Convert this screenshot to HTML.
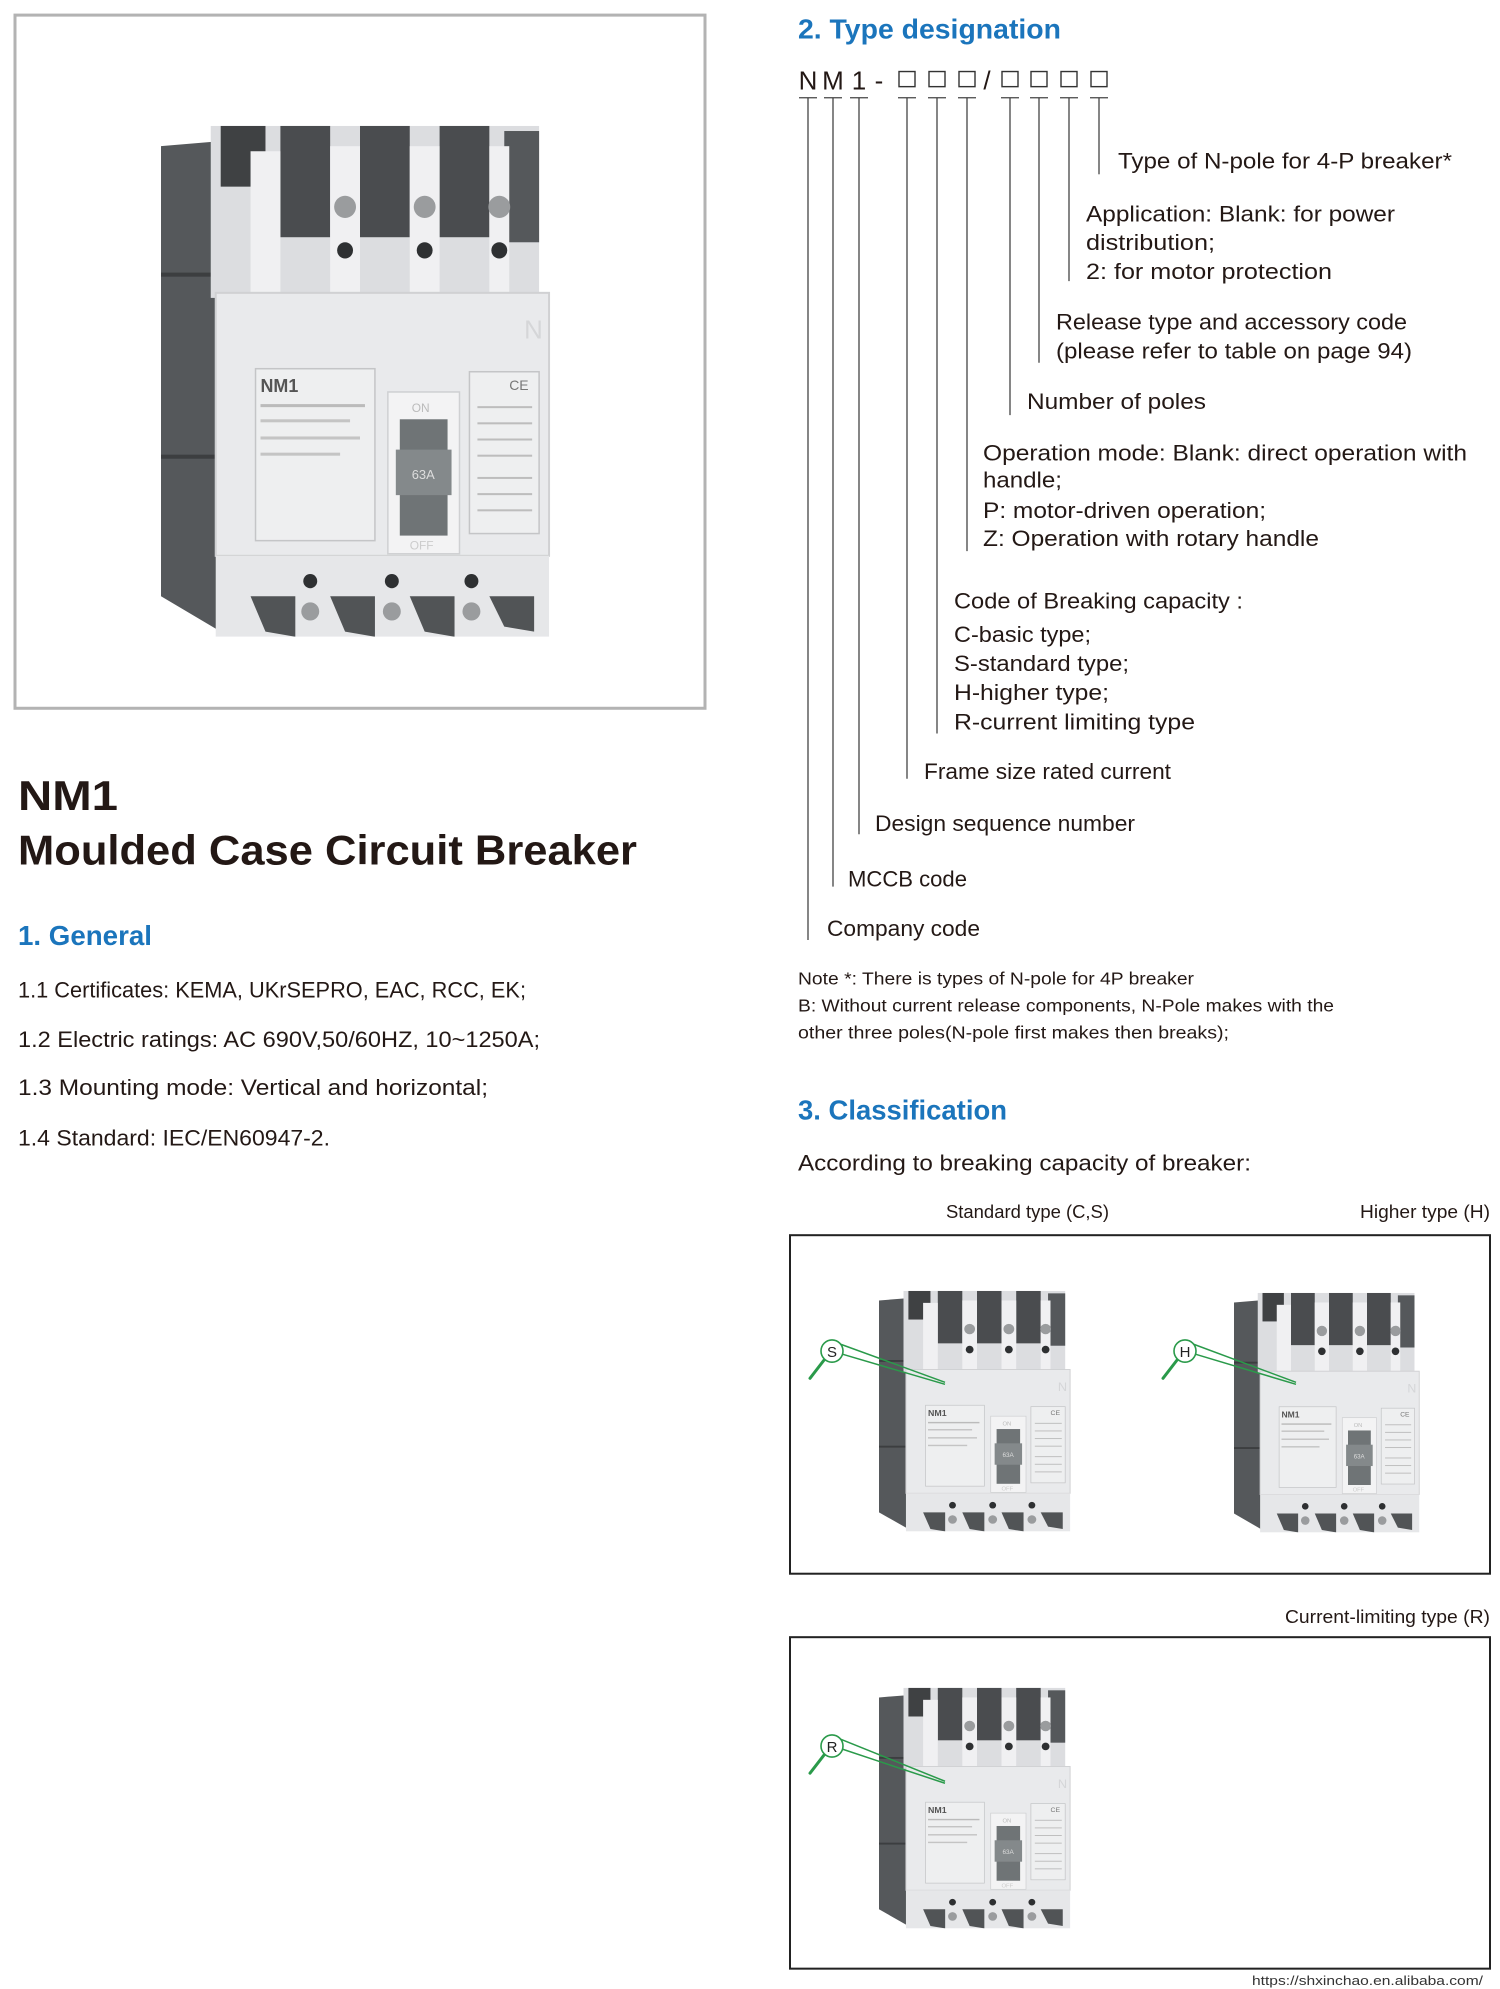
<!DOCTYPE html>
<html><head><meta charset="utf-8"><style>
html,body{margin:0;padding:0;background:#fff}
svg{display:block}
text{font-family:"Liberation Sans",sans-serif}
</style></head><body>
<svg width="1500" height="1989" viewBox="0 0 1500 1989" xmlns="http://www.w3.org/2000/svg">
<defs>
<symbol id="brk" viewBox="0 0 400 510" preserveAspectRatio="none">
  <polygon points="0,25 60,20 60,505 0,470" fill="#55585b"/>
  <rect x="0" y="150" width="60" height="4" fill="#3c3e40"/>
  <rect x="0" y="330" width="60" height="4" fill="#3c3e40"/>
  <rect x="50" y="5" width="330" height="170" fill="#dcdde0"/>
  <rect x="60" y="5" width="45" height="60" fill="#3f4143"/>
  <rect x="120" y="5" width="50" height="110" fill="#4a4c4f"/>
  <rect x="200" y="5" width="50" height="110" fill="#4a4c4f"/>
  <rect x="280" y="5" width="50" height="110" fill="#4a4c4f"/>
  <rect x="345" y="10" width="35" height="110" fill="#55585b"/>
  <rect x="170" y="25" width="30" height="150" fill="#f0f0f2"/>
  <rect x="250" y="25" width="30" height="150" fill="#f0f0f2"/>
  <rect x="330" y="25" width="20" height="150" fill="#f0f0f2"/>
  <rect x="90" y="30" width="30" height="145" fill="#f0f0f2"/>
  <circle cx="185" cy="85" r="11" fill="#9a9c9e"/>
  <circle cx="265" cy="85" r="11" fill="#9a9c9e"/>
  <circle cx="340" cy="85" r="11" fill="#9a9c9e"/>
  <circle cx="185" cy="128" r="8" fill="#2e3032"/>
  <circle cx="265" cy="128" r="8" fill="#2e3032"/>
  <circle cx="340" cy="128" r="8" fill="#2e3032"/>
  <rect x="55" y="170" width="335" height="260" fill="#e9eaec"/>
  <rect x="55" y="170" width="335" height="260" fill="none" stroke="#d0d1d3" stroke-width="2"/>
  <rect x="95" y="245" width="120" height="170" fill="#eeeff0" stroke="#c4c5c7" stroke-width="1.5"/>
  <text x="100" y="268" font-size="18" fill="#555" font-weight="bold">NM1</text>
  <rect x="100" y="280" width="105" height="3" fill="#bbb"/>
  <rect x="100" y="295" width="90" height="3" fill="#c4c4c4"/>
  <rect x="100" y="312" width="100" height="3" fill="#c4c4c4"/>
  <rect x="100" y="328" width="80" height="3" fill="#c4c4c4"/>
  <rect x="228" y="268" width="72" height="160" fill="#f3f3f4" stroke="#cfd0d2" stroke-width="1.5"/>
  <rect x="240" y="295" width="48" height="115" fill="#6f7476"/>
  <rect x="236" y="325" width="56" height="45" fill="#84898b"/>
  <text x="252" y="354" font-size="13" fill="#ddd">63A</text>
  <text x="252" y="288" font-size="12" fill="#bbb">ON</text>
  <text x="250" y="424" font-size="12" fill="#ccc">OFF</text>
  <rect x="310" y="248" width="70" height="160" fill="#eeeff0" stroke="#c4c5c7" stroke-width="1.5"/>
  <text x="350" y="266" font-size="14" fill="#777">CE</text>
  <g fill="#bdbdbd">
   <rect x="318" y="282" width="55" height="2"/><rect x="318" y="298" width="55" height="2"/>
   <rect x="318" y="314" width="55" height="2"/><rect x="318" y="330" width="55" height="2"/>
   <rect x="318" y="352" width="55" height="2"/><rect x="318" y="368" width="55" height="2"/>
   <rect x="318" y="384" width="55" height="2"/>
  </g>
  <text x="365" y="215" font-size="26" fill="#d5d6d8">N</text>
  <circle cx="140" cy="452" r="11" fill="#f5a021"/>
  <rect x="55" y="430" width="335" height="80" fill="#e6e7e9"/>
  <polygon points="90,470 135,470 135,510 105,505" fill="#515456"/>
  <polygon points="170,470 215,470 215,510 185,505" fill="#515456"/>
  <polygon points="250,470 295,470 295,510 265,505" fill="#515456"/>
  <polygon points="330,470 375,470 375,505 345,500" fill="#515456"/>
  <circle cx="150" cy="455" r="7" fill="#2e3032"/>
  <circle cx="232" cy="455" r="7" fill="#2e3032"/>
  <circle cx="312" cy="455" r="7" fill="#2e3032"/>
  <circle cx="150" cy="485" r="9" fill="#9a9c9e"/>
  <circle cx="232" cy="485" r="9" fill="#9a9c9e"/>
  <circle cx="312" cy="485" r="9" fill="#9a9c9e"/>
</symbol>
</defs>
<g transform="scale(1,1.0075)">
<rect x="15" y="15" width="690" height="688" fill="#fff" stroke="#b3b3b3" stroke-width="3"/>
<use href="#brk" x="161" y="120" width="398" height="512"/>

<text x="18" y="804" font-size="41" font-weight="bold" fill="#231815" textLength="100" lengthAdjust="spacingAndGlyphs">NM1</text>
<text x="18" y="858" font-size="41" font-weight="bold" fill="#231815" textLength="619" lengthAdjust="spacingAndGlyphs">Moulded Case Circuit Breaker</text>
<text x="18" y="938" font-size="28" font-weight="bold" fill="#1b75bc" textLength="134" lengthAdjust="spacingAndGlyphs">1. General</text>
<g font-size="22" fill="#231815">
<text x="18" y="990" textLength="508" lengthAdjust="spacingAndGlyphs">1.1 Certificates: KEMA, UKrSEPRO, EAC, RCC, EK;</text>
<text x="18" y="1039" textLength="522" lengthAdjust="spacingAndGlyphs">1.2 Electric ratings: AC 690V,50/60HZ, 10~1250A;</text>
<text x="18" y="1087" textLength="470" lengthAdjust="spacingAndGlyphs">1.3 Mounting mode: Vertical and horizontal;</text>
<text x="18" y="1137" textLength="312" lengthAdjust="spacingAndGlyphs">1.4 Standard: IEC/EN60947-2.</text>
</g>

<text x="798" y="38" font-size="28" font-weight="bold" fill="#1b75bc" textLength="263" lengthAdjust="spacingAndGlyphs">2. Type designation</text>
<g font-size="26" fill="#231815" text-anchor="middle">
<text x="808" y="89">N</text><text x="833" y="89">M</text><text x="859" y="89">1</text><text x="879" y="89">-</text><text x="987" y="89">/</text>
</g>
<g fill="none" stroke="#333" stroke-width="1.4">
<rect x="899" y="71" width="16" height="15"/><rect x="929" y="71" width="16" height="15"/><rect x="959" y="71" width="16" height="15"/>
<rect x="1002" y="71" width="16" height="15"/><rect x="1031" y="71" width="16" height="15"/><rect x="1061" y="71" width="16" height="15"/><rect x="1091" y="71" width="16" height="15"/>
</g>
<g stroke="#444" stroke-width="1.3">
<line x1="799" y1="97" x2="817" y2="97"/><line x1="808" y1="97" x2="808" y2="933"/>
<line x1="824" y1="97" x2="842" y2="97"/><line x1="833" y1="97" x2="833" y2="880"/>
<line x1="850" y1="97" x2="868" y2="97"/><line x1="859" y1="97" x2="859" y2="828"/>
<line x1="898" y1="97" x2="916" y2="97"/><line x1="907" y1="97" x2="907" y2="773"/>
<line x1="928" y1="97" x2="946" y2="97"/><line x1="937" y1="97" x2="937" y2="728"/>
<line x1="958" y1="97" x2="976" y2="97"/><line x1="967" y1="97" x2="967" y2="547"/>
<line x1="1001" y1="97" x2="1019" y2="97"/><line x1="1010" y1="97" x2="1010" y2="412"/>
<line x1="1030" y1="97" x2="1048" y2="97"/><line x1="1039" y1="97" x2="1039" y2="360"/>
<line x1="1060" y1="97" x2="1078" y2="97"/><line x1="1069" y1="97" x2="1069" y2="279"/>
<line x1="1090" y1="97" x2="1108" y2="97"/><line x1="1099" y1="97" x2="1099" y2="173"/>
</g>
<g font-size="22" fill="#231815">
<text x="1118" y="167" textLength="334" lengthAdjust="spacingAndGlyphs">Type of N-pole for 4-P breaker*</text>
<text x="1086" y="220" textLength="309" lengthAdjust="spacingAndGlyphs">Application: Blank: for power</text>
<text x="1086" y="248" textLength="129" lengthAdjust="spacingAndGlyphs">distribution;</text>
<text x="1086" y="277" textLength="246" lengthAdjust="spacingAndGlyphs">2: for motor protection</text>
<text x="1056" y="327" textLength="351" lengthAdjust="spacingAndGlyphs">Release type and accessory code</text>
<text x="1056" y="356" textLength="356" lengthAdjust="spacingAndGlyphs">(please refer to table on page 94)</text>
<text x="1027" y="406" textLength="179" lengthAdjust="spacingAndGlyphs">Number of poles</text>
<text x="983" y="457" textLength="484" lengthAdjust="spacingAndGlyphs">Operation mode: Blank: direct operation with</text>
<text x="983" y="484" textLength="79" lengthAdjust="spacingAndGlyphs">handle;</text>
<text x="983" y="514" textLength="283" lengthAdjust="spacingAndGlyphs">P: motor-driven operation;</text>
<text x="983" y="542" textLength="336" lengthAdjust="spacingAndGlyphs">Z: Operation with rotary handle</text>
<text x="954" y="604" textLength="289" lengthAdjust="spacingAndGlyphs">Code of Breaking capacity :</text>
<text x="954" y="637" textLength="137" lengthAdjust="spacingAndGlyphs">C-basic type;</text>
<text x="954" y="666" textLength="175" lengthAdjust="spacingAndGlyphs">S-standard type;</text>
<text x="954" y="695" textLength="155" lengthAdjust="spacingAndGlyphs">H-higher type;</text>
<text x="954" y="724" textLength="241" lengthAdjust="spacingAndGlyphs">R-current limiting type</text>
<text x="924" y="773" textLength="247" lengthAdjust="spacingAndGlyphs">Frame size rated current</text>
<text x="875" y="825" textLength="260" lengthAdjust="spacingAndGlyphs">Design sequence number</text>
<text x="848" y="880" textLength="119" lengthAdjust="spacingAndGlyphs">MCCB code</text>
<text x="827" y="929" textLength="153" lengthAdjust="spacingAndGlyphs">Company code</text>
</g>
<g font-size="17" fill="#231815">
<text x="798" y="977" textLength="396" lengthAdjust="spacingAndGlyphs">Note *: There is types of N-pole for 4P breaker</text>
<text x="798" y="1004" textLength="536" lengthAdjust="spacingAndGlyphs">B: Without current release components, N-Pole makes with the</text>
<text x="798" y="1031" textLength="431" lengthAdjust="spacingAndGlyphs">other three poles(N-pole first  makes then breaks);</text>
</g>

<text x="798" y="1111" font-size="28" font-weight="bold" fill="#1b75bc" textLength="209" lengthAdjust="spacingAndGlyphs">3. Classification</text>
<text x="798" y="1162" font-size="22" fill="#231815" textLength="453" lengthAdjust="spacingAndGlyphs">According to breaking capacity of breaker:</text>
<g font-size="18" fill="#231815">
<text x="946" y="1209" textLength="163" lengthAdjust="spacingAndGlyphs">Standard type (C,S)</text>
<text x="1360" y="1209" textLength="130" lengthAdjust="spacingAndGlyphs">Higher type (H)</text>
<text x="1285" y="1611" textLength="205" lengthAdjust="spacingAndGlyphs">Current-limiting type (R)</text>
</g>
<rect x="790" y="1226" width="700" height="336" fill="none" stroke="#222" stroke-width="2"/>
<rect x="790" y="1625" width="700" height="329" fill="none" stroke="#222" stroke-width="2"/>

<use href="#brk" x="879" y="1279" width="196" height="241"/>
<use href="#brk" x="1234" y="1281" width="190" height="240"/>
<use href="#brk" x="879" y="1673" width="196" height="241"/>

<g stroke="#2a9a4a" stroke-width="1.5" fill="none">
 <line x1="840" y1="1334" x2="945" y2="1372"/><line x1="842" y1="1344" x2="945" y2="1374"/>
 <path d="M824,1350 L810,1368" stroke-width="3" stroke-linecap="round"/>
 <line x1="1193" y1="1334" x2="1296" y2="1372"/><line x1="1195" y1="1344" x2="1296" y2="1374"/>
 <path d="M1177,1350 L1163,1368" stroke-width="3" stroke-linecap="round"/>
 <line x1="840" y1="1726" x2="945" y2="1768"/><line x1="842" y1="1736" x2="945" y2="1770"/>
 <path d="M824,1742 L810,1760" stroke-width="3" stroke-linecap="round"/>
</g>
<g stroke="#2a9a4a" stroke-width="1.6" fill="#fff">
 <circle cx="832" cy="1341" r="11"/><circle cx="1185" cy="1341" r="11"/><circle cx="832" cy="1733" r="11"/>
</g>
<g font-size="15" fill="#222" text-anchor="middle">
 <text x="832" y="1347">S</text><text x="1185" y="1347">H</text><text x="832" y="1739">R</text>
</g>

<text x="1252" y="1970" font-family="Liberation Mono, monospace" font-size="13" fill="#333" textLength="231" lengthAdjust="spacingAndGlyphs">https://shxinchao.en.alibaba.com/</text>
</g>
</svg>
</body></html>
